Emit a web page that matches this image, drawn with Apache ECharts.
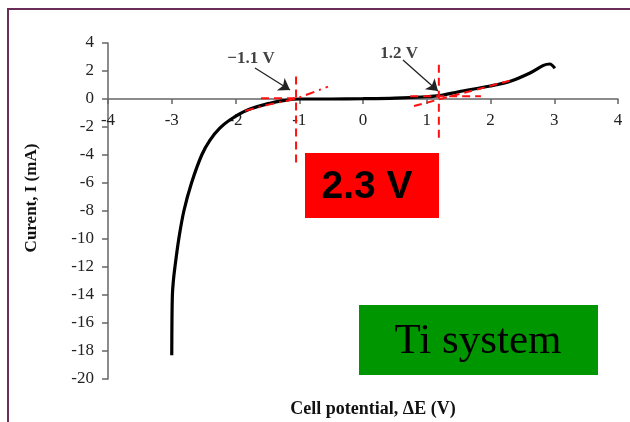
<!DOCTYPE html>
<html>
<head>
<meta charset="utf-8">
<style>
  html, body { margin: 0; padding: 0; background: #fff; }
  #chart { width: 630px; height: 422px; }
</style>
<script src="https://cdn.jsdelivr.net/npm/echarts@6/dist/echarts.min.js"></script>
</head>
<body>
<div id="chart"></div>
<script>
// ---- data ----
const xTicks = [-4, -3, -2, -1, 0, 1, 2, 3, 4];
const yTicks = [-20, -18, -16, -14, -12, -10, -8, -6, -4, -2, 0, 2, 4];

const curveX = [-3.00, -2.997, -2.99, -2.975, -2.95, -2.89, -2.81, -2.69, -2.53, -2.40, -2.25, -2.09, -1.82, -1.46, -1.25, -1.00, -0.50, 0.00, 0.50, 1.00, 1.20, 1.50, 2.00, 2.30, 2.62, 2.83, 2.93, 3.01];
const curveY = [-18.3, -16.0, -14.0, -13.0, -12.0, -10.0, -8.0, -6.0, -4.0, -2.93, -2.1, -1.5, -0.80, -0.30, -0.12, 0.00, 0.00, 0.02, 0.06, 0.16, 0.24, 0.52, 0.93, 1.25, 1.86, 2.40, 2.50, 2.20];

// red dashed construction lines (V, mA)
const leftVertX = [-1.05, -1.05];
const leftVertY = [1.6, -4.6];
const leftFlatX = [-1.60, -1.05];
const leftFlatY = [0.05, 0.05];
const leftSlopeX = [-1.85, -1.50, -1.05, -0.55];
const leftSlopeY = [-0.85, -0.42, 0.02, 0.88];
const rightVertX = [1.19, 1.19];
const rightVertY = [2.45, -3.1];
const rightFlatX = [0.74, 1.85];
const rightFlatY = [0.2, 0.2];
const rightSlopeX = [0.80, 2.30];
const rightSlopeY = [-0.50, 1.30];

// annotations
const annText = ['\u22121.1 V', '1.2 V'];
const annPos = [[-1.757, 2.86], [0.565, 3.21]];
const arrowFrom = [[-1.694, 2.21], [0.627, 2.79]];
const arrowTo = [[-1.145, 0.64], [1.176, 0.57]];

const xTitle = 'Cell potential, \u0394E (V)';
const yTitle = 'Curent, I (mA)';
const boxRedText = '2.3 V';
const boxGreenText = 'Ti system';

function pairs(xs, ys) { return xs.map((x, i) => [x, ys[i]]); }

const serif = '"Liberation Serif", "Times New Roman", serif';
const red = '#ff1010';

const chart = echarts.init(document.getElementById('chart'), null, { renderer: 'canvas' });

const dashed = (name, xs, ys, type) => ({
  name, type: 'line', data: pairs(xs, ys), showSymbol: false, symbol: 'none',
  lineStyle: { color: red, width: 2, type: type || [8, 5] }, z: 5, silent: true, animation: false
});

// grid: y from 4 (top) to -20 (bottom); x axis drawn at y = 0
const gridTop = 43, gridBottom = 43, plotH = 422 - gridTop - gridBottom;
const yMin = -20, yMax = 4;
const zeroOffset = -plotH * (0 - yMin) / (yMax - yMin);

chart.setOption({
  animation: false,
  backgroundColor: '#fff',
  grid: { left: 108, right: 12, top: gridTop, bottom: gridBottom, containLabel: false },
  xAxis: {
    type: 'value', min: -4, max: 4, interval: 1, position: 'bottom', offset: zeroOffset,
    axisLine: { onZero: false, lineStyle: { color: '#666', width: 1.5 } },
    axisTick: { show: true, length: 5, inside: false, lineStyle: { color: '#666', width: 1.5 } },
    axisLabel: { fontFamily: serif, fontSize: 17, color: '#222', margin: 13,
      formatter: v => xTicks.includes(v) ? String(v) : '' },
    splitLine: { show: false }
  },
  yAxis: {
    type: 'value', min: yMin, max: yMax, interval: 2,
    axisLine: { show: true, onZero: false, lineStyle: { color: '#666', width: 1.5 } },
    axisTick: { show: true, length: 6, lineStyle: { color: '#666', width: 1.5 } },
    axisLabel: { fontFamily: serif, fontSize: 17, color: '#222', margin: 14,
      formatter: v => yTicks.includes(v) ? String(v) : '' },
    splitLine: { show: false }
  },
  series: [
    {
      name: 'I-V', type: 'line', data: pairs(curveX, curveY), showSymbol: false, symbol: 'none',
      smooth: 0.3, lineStyle: { color: '#000', width: 3.2 }, z: 3
    },
    dashed('lv', leftVertX, leftVertY),
    dashed('lf', leftFlatX, leftFlatY),
    dashed('ls', leftSlopeX, leftSlopeY, [9, 5, 2, 5]),
    dashed('rv', rightVertX, rightVertY),
    dashed('rf', rightFlatX, rightFlatY),
    dashed('rs', rightSlopeX, rightSlopeY),
    {
      name: 'arrows', type: 'lines', coordinateSystem: 'cartesian2d', silent: true, z: 6,
      symbol: ['none', 'arrow'], symbolSize: [0, 11],
      lineStyle: { color: '#222', width: 1.3, opacity: 1 },
      data: arrowFrom.map((p, i) => ({ coords: [p, arrowTo[i]] }))
    },
    {
      name: 'labels', type: 'scatter', symbolSize: 0, silent: true, z: 7,
      data: annPos.map((p, i) => ({ value: p, name: annText[i] })),
      label: { show: true, position: 'inside', formatter: p => p.name,
        fontFamily: serif, fontWeight: 'bold', fontSize: 17, color: '#111' }
    }
  ],
  graphic: [
    { type: 'rect', shape: { x: 8, y: 9, width: 700, height: 500 }, silent: true,
      style: { fill: 'none', stroke: '#6b2d57', lineWidth: 2 }, z: 100 },
    { type: 'text', x: 32, y: 198, rotation: Math.PI / 2, silent: true,
      style: { text: yTitle, fontFamily: serif, fontWeight: 'bold', fontSize: 17, fill: '#111',
        align: 'center', verticalAlign: 'middle' } },
    { type: 'text', x: 373, y: 409, silent: true,
      style: { text: xTitle, fontFamily: serif, fontWeight: 'bold', fontSize: 18, fill: '#111',
        align: 'center', verticalAlign: 'middle' } },
    { type: 'rect', shape: { x: 305, y: 153, width: 134, height: 65 }, silent: true,
      style: { fill: '#ff0000' }, z: 50 },
    { type: 'text', x: 367, y: 187, silent: true, z: 51,
      style: { text: boxRedText, fontFamily: '"Liberation Sans", Arial, sans-serif', fontWeight: 'bold',
        fontSize: 39, fill: '#000', align: 'center', verticalAlign: 'middle' } },
    { type: 'rect', shape: { x: 359, y: 305, width: 239, height: 70 }, silent: true,
      style: { fill: '#009600' }, z: 50 },
    { type: 'text', x: 478, y: 342, silent: true, z: 51,
      style: { text: boxGreenText, fontFamily: serif, fontSize: 43, fill: '#000',
        align: 'center', verticalAlign: 'middle' } }
  ]
});
</script>
</body>
</html>
